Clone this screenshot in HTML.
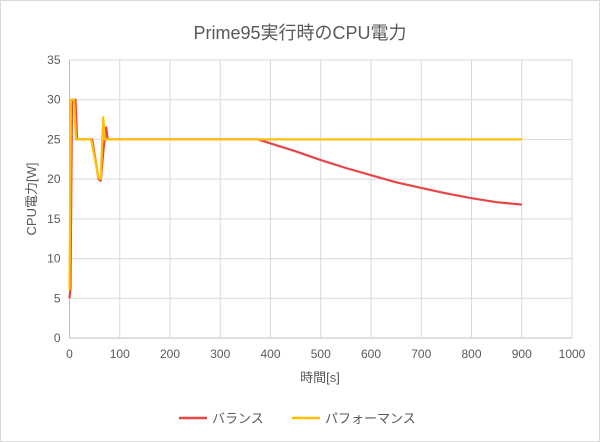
<!DOCTYPE html>
<html><head><meta charset="utf-8"><style>
body{margin:0;background:#fff}
svg{display:block;font-family:"Liberation Sans","Noto Sans CJK JP",sans-serif}
</style></head><body>
<svg width="600" height="442" viewBox="0 0 600 442">
<rect x="0.5" y="0.5" width="599" height="441" fill="#fff" stroke="#d9d9d9"/>
<text x="300" y="39" text-anchor="middle" font-size="18" fill="#595959">Prime95実行時のCPU電力</text>
<g id="grid"></g><g id="axes"></g><g id="series"></g>
<text x="320" y="382" text-anchor="middle" font-size="13" fill="#595959">時間[s]</text>
<text transform="translate(36,199) rotate(-90)" text-anchor="middle" font-size="13" fill="#595959">CPU電力[W]</text>
<g>
<line x1="179" y1="418" x2="207" y2="418" stroke="#e84545" stroke-width="2.5"/>
<text x="212" y="423" font-size="13" fill="#595959">バランス</text>
<line x1="292" y1="418" x2="320" y2="418" stroke="#ffc000" stroke-width="2.5"/>
<text x="325" y="423" font-size="13" fill="#595959">パフォーマンス</text>
</g>
</svg>
<script>
const xTicks=[0,100,200,300,400,500,600,700,800,900,1000];
const yTicks=[0,5,10,15,20,25,30,35];
const balanceX=[0,2,5,12,15,45,58,62,68,73,76,80,375,450,500,550,600,650,700,750,800,850,900];
const balanceY=[5,6.3,30,30,25,25,20,19.8,24,26.5,25,25,25,23.5,22.4,21.4,20.5,19.6,18.9,18.2,17.6,17.1,16.8];
const perfX=[0,3,9,13,43,58,62,67,70,900];
const perfY=[6,30,30,25,25,20.2,20,27.8,25,25];
const L=69.5,R=572,T=60,B=338;
const sx=v=>L+(R-L)*v/1000, sy=v=>B-(B-T)*v/35;
const NS="http://www.w3.org/2000/svg";
const grid=document.getElementById('grid'),axes=document.getElementById('axes'),ser=document.getElementById('series');
function mk(tag,at,parent){const e=document.createElementNS(NS,tag);for(const k in at)e.setAttribute(k,at[k]);parent.appendChild(e);return e;}
yTicks.forEach(v=>{
 const l=mk('line',{x1:L,x2:R,y1:sy(v),y2:sy(v),stroke:v===0?'#bfbfbf':'#d9d9d9','stroke-width':1},grid);
 
 
 const t=mk('text',{x:L-9,y:sy(v)+4,'text-anchor':'end','font-size':12,fill:'#595959'},axes);
 t.textContent=v;
 
 
});
xTicks.forEach(v=>{
 const l=mk('line',{x1:sx(v),x2:sx(v),y1:T,y2:B,stroke:v===0?'#bfbfbf':'#d9d9d9','stroke-width':1},grid);
 
 
 const t=mk('text',{x:sx(v),y:B+20,'text-anchor':'middle','font-size':12,fill:'#595959'},axes);
 t.textContent=v;
 
 
});
function line(xs,ys,color,name){
 const d=xs.map((x,i)=>(i?'L':'M')+sx(x).toFixed(1)+','+sy(ys[i]).toFixed(1)).join('');
 const p=mk('path',{d:d,fill:'none',stroke:color,'stroke-width':2.2,'stroke-linejoin':'round'},ser);
 
 
}
line(balanceX,balanceY,'#e84545','series-balance');
line(perfX,perfY,'#ffc000','series-performance');
</script>
</body></html>
